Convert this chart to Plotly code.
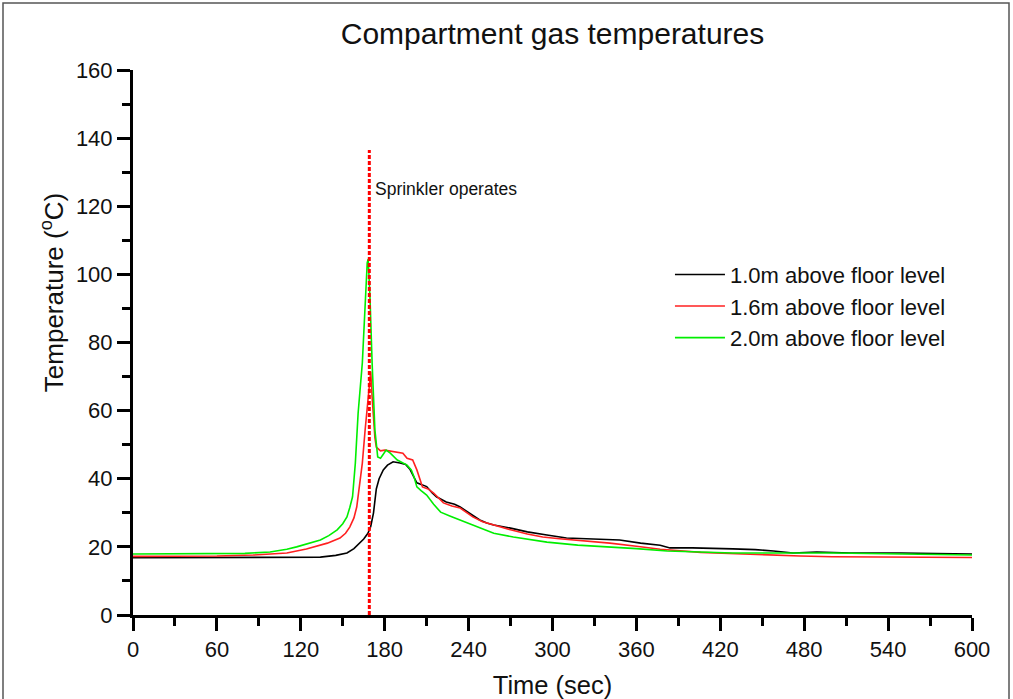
import plotly.graph_objects as go

# ---------------- data ----------------
t_10 = [0, 30, 60, 90, 120, 134, 145, 153, 158, 162, 165, 168, 170, 172, 174, 176, 179, 182, 186, 191,
        195, 198, 201, 203, 207, 210, 214, 217, 224, 230, 234, 241, 248, 253, 258, 270, 282, 296, 310,
        329, 348, 363, 377, 384, 400, 429, 445, 458, 472, 489, 500, 513, 549, 575, 600]
v_10 = [16.8, 16.8, 16.8, 16.8, 16.9, 17.0, 17.5, 18.2, 19.5, 21.1, 22.3, 24.0, 26.0, 30.0, 37.0, 40.0,
        42.6, 44.0, 45.0, 44.6, 44.2, 42.8, 40.5, 38.8, 38.2, 37.7, 35.8, 34.7, 33.2, 32.5, 31.7, 29.9,
        27.9, 27.0, 26.4, 25.5, 24.4, 23.5, 22.6, 22.3, 22.0, 21.1, 20.5, 19.7, 19.7, 19.4, 19.2, 18.8,
        18.2, 18.5, 18.3, 18.2, 18.2, 18.0, 17.9]

t_16 = [0, 30, 60, 86, 100, 110, 124, 132, 139, 148, 152, 155, 158, 160, 162, 164, 166, 167.5, 169, 170,
        171, 172, 173, 174, 177, 180, 186, 193, 196, 200, 203, 205, 207, 211, 215, 222, 228, 234, 243,
        250, 258, 270, 282, 293, 305, 318, 341, 360, 377, 406, 430, 453, 477, 500, 549, 600]
v_16 = [17.2, 17.2, 17.3, 17.6, 17.9, 18.2, 19.4, 20.2, 21.1, 22.6, 24.0, 25.8, 28.5, 31.7, 38.0, 44.6,
        54.3, 61.0, 69.0, 71.5, 64.0, 57.0, 52.0, 49.3, 48.2, 48.4, 47.9, 47.5, 46.0, 45.5, 42.6, 40.0,
        37.6, 37.0, 35.8, 32.9, 32.0, 31.4, 28.8, 27.4, 26.4, 25.0, 23.8, 22.9, 22.4, 22.0, 21.1, 20.2,
        19.3, 18.4, 18.0, 17.6, 17.3, 17.1, 17.0, 16.9]

t_20 = [0, 30, 60, 80, 98, 110, 117, 126, 134, 140, 146, 150, 153, 155, 157, 159, 161, 164, 166, 167.5,
        168.2, 169.5, 171, 173, 175, 177, 179, 181, 184, 189, 196, 199, 201, 203, 206, 210, 215, 220,
        227, 234, 246, 258, 272, 285, 296, 318, 341, 360, 382, 405, 429, 470, 501, 550, 600]
v_20 = [17.9, 17.9, 17.9, 18.1, 18.5, 19.3, 20.0, 21.0, 22.0, 23.3, 25.0, 26.8, 28.8, 31.5, 34.7, 44.6,
        59.3, 74.0, 88.7, 103.4, 104.5, 93.0, 74.0, 54.3, 46.4, 46.0, 47.2, 48.4, 47.5, 45.5, 44.0, 42.6,
        40.5, 37.6, 36.5, 35.2, 32.5, 30.2, 29.0, 27.9, 25.8, 24.0, 22.9, 22.2, 21.4, 20.5, 20.0, 19.5,
        18.8, 18.4, 18.2, 18.2, 18.2, 17.9, 17.6]

names = ["1.0m above floor level", "1.6m above floor level", "2.0m above floor level"]
colors = ["#000000", "#ff2020", "#00ee00"]

sprinkler_t = 169
sprinkler_line_y = [0, 136.5]
sprinkler_label = "Sprinkler operates"

x_ticks = list(range(0, 601, 60))
y_ticks = list(range(0, 161, 20))

FONT = "Liberation Sans, Arial, Helvetica, sans-serif"

fig = go.Figure()
for t, v, n, c in zip([t_10, t_16, t_20], [v_10, v_16, v_20], names, colors):
    fig.add_trace(go.Scatter(x=t, y=v, mode="lines", name=n,
                             line=dict(color=c, width=1.6)))

fig.add_trace(go.Scatter(x=[sprinkler_t, sprinkler_t], y=sprinkler_line_y, mode="lines",
                         showlegend=False, hoverinfo="skip",
                         line=dict(color="#ff0000", width=3, dash="4px,2px")))

fig.add_annotation(x=sprinkler_t + 2.5, y=125.2, xref="x", yref="y", text=sprinkler_label,
                   showarrow=False, xanchor="left", yanchor="middle",
                   font=dict(family=FONT, size=17.5, color="#111"))

fig.add_annotation(x=-0.095, y=0.591, xref="paper", yref="paper",
                   text="Temperature (<sup>o</sup>C)", textangle=-90, showarrow=False,
                   xanchor="center", yanchor="middle",
                   font=dict(family=FONT, size=26, color="#111"))

axis_common = dict(showline=True, linecolor="black", linewidth=3, ticks="outside",
                   tickwidth=3, tickcolor="black", ticklen=13, showgrid=False, zeroline=False,
                   tickfont=dict(family=FONT, size=22, color="#111"))

fig.update_xaxes(range=[0, 600], tickvals=x_ticks, ticktext=[str(v) for v in x_ticks],
                 minor=dict(dtick=30, tick0=0, ticks="outside", ticklen=8, tickwidth=3,
                            tickcolor="black", showgrid=False),
                 title=dict(text="Time (sec)", font=dict(family=FONT, size=25.5, color="#111"),
                            standoff=15),
                 **axis_common)
fig.update_yaxes(range=[0, 160], tickvals=y_ticks, ticktext=[str(v) for v in y_ticks],
                 minor=dict(dtick=10, tick0=0, ticks="outside", ticklen=8, tickwidth=3,
                            tickcolor="black", showgrid=False),
                 **axis_common)

# outer frame of the picture
fig.add_shape(type="rect", xref="paper", yref="paper",
              x0=(3 - 133) / 839, x1=(1009 - 133) / 839,
              y0=(615 - 705) / 545, y1=(615 - 3) / 545,
              line=dict(color="#555555", width=1.5), layer="below")

fig.update_layout(
    width=1013, height=699,
    margin=dict(l=133, r=41, t=70, b=84, autoexpand=False),
    paper_bgcolor="white", plot_bgcolor="white",
    title=dict(text="Compartment gas temperatures", x=0.5, xref="paper", y=1 - 33 / 699,
               yanchor="middle", font=dict(family=FONT, size=30, color="#111")),
    legend=dict(x=0.64, y=0.663, xanchor="left", yanchor="top", bgcolor="rgba(0,0,0,0)",
                font=dict(family=FONT, size=22, color="#111"), tracegroupgap=0,
                itemwidth=50),
    showlegend=True,
)

fig.write_html("out.html")
